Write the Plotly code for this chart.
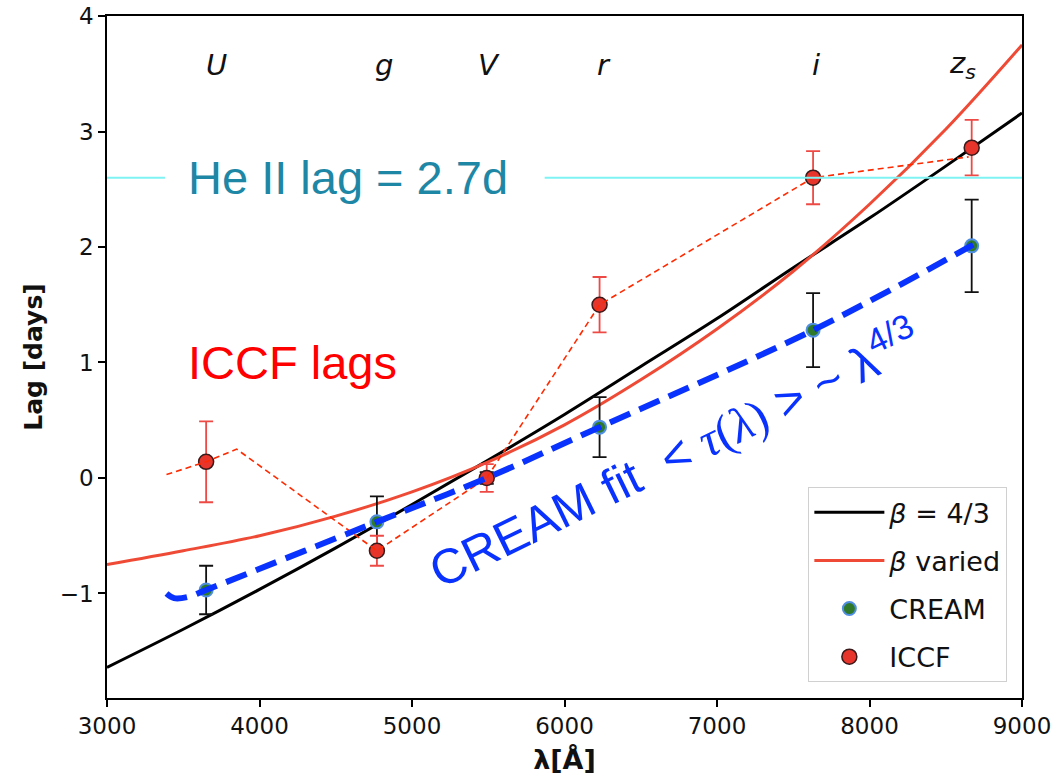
import plotly.graph_objects as go

# Band wavelengths (Angstrom) and measured lags (days)
cream_wl = [3650, 4770, 5490, 6230, 7630, 8670]
cream_lag = [-0.97, -0.38, 0.0, 0.44, 1.28, 2.01]
cream_err = [0.21, 0.22, 0.05, 0.26, 0.32, 0.40]

iccf_wl = [3650, 4770, 5490, 6230, 7630, 8670]
iccf_lag = [0.14, -0.63, 0.0, 1.50, 2.60, 2.86]
iccf_err = [0.35, 0.13, 0.12, 0.24, 0.23, 0.24]

# Disc model curves sampled along wavelength
model_wl = [3000, 3500, 4000, 4500, 5000, 5500, 6000, 6500, 7000, 7500, 8000, 8500, 9000]
beta43_lag = [-1.64, -1.31, -0.965, -0.605, -0.23, 0.155, 0.55, 0.965, 1.38, 1.82, 2.25, 2.70, 3.16]
betavar_lag = [-0.75, -0.63, -0.50, -0.33, -0.12, 0.14, 0.46, 0.85, 1.29, 1.79, 2.37, 3.02, 3.75]

# Sketched connector through the ICCF lags
iccf_path_wl = [3390, 3650, 3850, 4770, 5490, 6230, 7630, 8650]
iccf_path_lag = [0.03, 0.14, 0.25, -0.63, 0.0, 1.50, 2.60, 2.78]

# Sketched CREAM trend
cream_path_wl = [3390, 3440, 3530, 3650, 4770, 5490, 6230, 7630, 8680]
cream_path_lag = [-1.00, -1.04, -1.03, -0.97, -0.38, 0.0, 0.44, 1.28, 2.02]

# He II lag reference level
heii_lag = 2.60

# Photometric band labels
band_names = ["<i>U</i>", "<i>g</i>", "<i>V</i>", "<i>r</i>", "<i>i</i>", "<i>z<sub>s</sub></i>"]
band_wl = [3715, 4816, 5505, 6260, 7650, 8607]
band_y = 3.58

fig = go.Figure()

fig.add_trace(go.Scatter(
    x=model_wl, y=beta43_lag, mode="lines", name="<i>β</i> = 4/3",
    line=dict(color="black", width=3, shape="spline"), legendgroup="a"))
fig.add_trace(go.Scatter(
    x=model_wl, y=betavar_lag, mode="lines", name="<i>β</i> varied",
    line=dict(color="#ef4a35", width=3, shape="spline"), legendgroup="b"))
fig.add_trace(go.Scatter(
    x=cream_wl, y=cream_lag, mode="markers", name="CREAM",
    marker=dict(color="#2f7a2a", size=13, line=dict(color="#4f8ee0", width=2)),
    error_y=dict(type="data", array=cream_err, color="#111111", thickness=1.8, width=7),
    legendgroup="c"))
fig.add_trace(go.Scatter(
    x=iccf_wl, y=iccf_lag, mode="markers", name="ICCF",
    marker=dict(color="#e8352c", size=15, line=dict(color="#3a1a1a", width=1.5)),
    error_y=dict(type="data", array=iccf_err, color="#ee4a45", thickness=1.8, width=7),
    legendgroup="d"))

fig.add_trace(go.Scatter(
    x=iccf_path_wl, y=iccf_path_lag, mode="lines", showlegend=False,
    line=dict(color="#ff2a00", width=1.6, dash="6px,4px")))
fig.add_trace(go.Scatter(
    x=cream_path_wl, y=cream_path_lag, mode="lines", showlegend=False,
    line=dict(color="#0a32ff", width=6, dash="22px,10px", shape="spline")))

# He II level, broken around its label
fig.add_shape(type="line", x0=3000, x1=3380, y0=heii_lag, y1=heii_lag,
              line=dict(color="#7ff3f3", width=2))
fig.add_shape(type="line", x0=5870, x1=9000, y0=heii_lag, y1=heii_lag,
              line=dict(color="#7ff3f3", width=2))
fig.add_annotation(x=4580, y=heii_lag, text="He II lag = 2.7d", showarrow=False,
                   font=dict(family="Liberation Sans", size=47, color="#1e87a6"))

fig.add_annotation(x=4215, y=1.0, text="ICCF lags", showarrow=False,
                   font=dict(family="Liberation Sans", size=47, color="#ff0000"))

fig.add_annotation(
    x=6720, y=0.22, textangle=-26, showarrow=False,
    text=("CREAM fit  &lt; <span style='font-family:Liberation Serif'><i>τ</i>(<i>λ</i>)</span>"
          " &gt; ~ λ<sup>4/3</sup>"),
    font=dict(family="Liberation Sans", size=49, color="#0a32ff"))

for name, wl in zip(band_names, band_wl):
    fig.add_annotation(x=wl, y=band_y, text=name, showarrow=False,
                       font=dict(family="DejaVu Sans", size=29, color="#111111"))

axis_common = dict(showline=True, linecolor="black", linewidth=1.5, mirror=True,
                   ticks="outside", ticklen=7, tickwidth=1.5, tickcolor="black",
                   showgrid=False, zeroline=False, automargin=False,
                   tickfont=dict(family="DejaVu Sans", size=23, color="#111111"))

fig.update_xaxes(range=[3000, 9000], dtick=1000, tick0=3000,
                 title=dict(text="<b>λ[Å]</b>", font=dict(family="DejaVu Sans", size=27, color="#111111"),
                            standoff=12),
                 **axis_common)
fig.update_yaxes(range=[-1.905, 4], dtick=1, tick0=0,
                 title=dict(text="<b>Lag [days]</b>", font=dict(family="DejaVu Sans", size=25, color="#111111"),
                            standoff=10),
                 **axis_common)

fig.update_layout(
    width=1055, height=781,
    margin=dict(l=107, r=33, t=16, b=83),
    plot_bgcolor="white", paper_bgcolor="white",
    legend=dict(x=0.984, y=0.023, xanchor="right", yanchor="bottom",
                bgcolor="white", bordercolor="#d0d0d0", borderwidth=1,
                font=dict(family="DejaVu Sans", size=27, color="#111111"),
                itemwidth=70, tracegroupgap=10),
)

fig.write_html("out.html")
